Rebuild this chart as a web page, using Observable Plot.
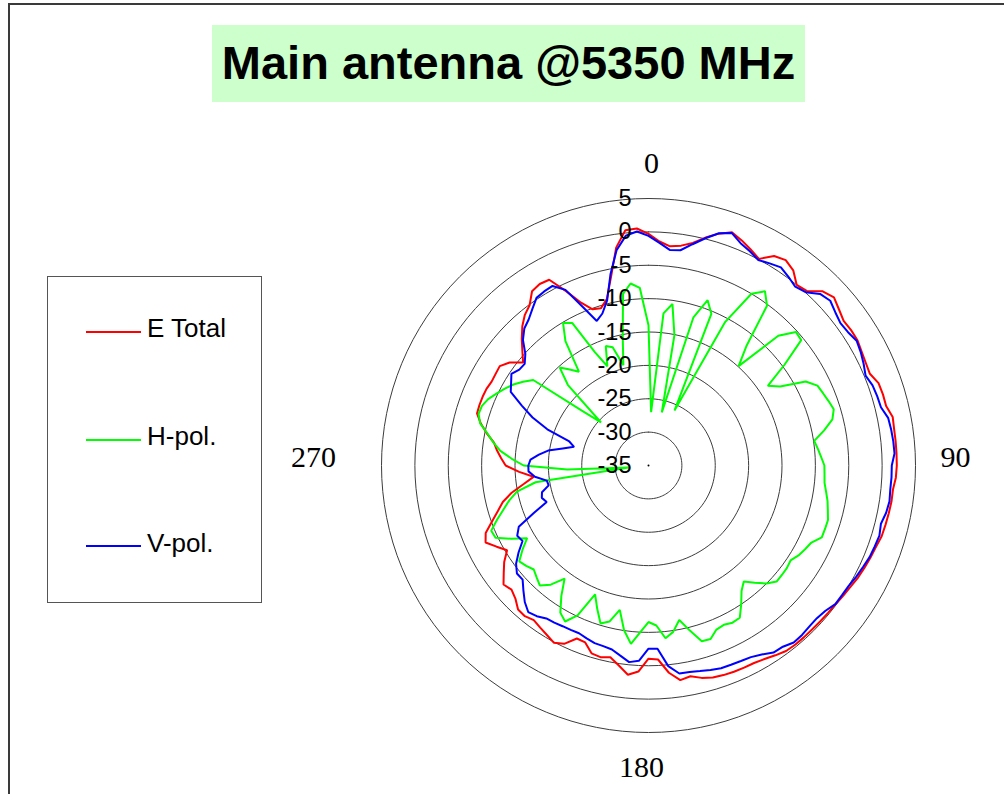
<!DOCTYPE html>
<html>
<head>
<meta charset="utf-8">
<script src="https://cdn.jsdelivr.net/npm/d3@7"></script>
<script src="https://cdn.jsdelivr.net/npm/@observablehq/plot@0.6"></script>
<style>
  html, body { margin: 0; padding: 0; background: #fff; }
  #wrap { position: relative; width: 1004px; height: 794px; overflow: hidden; font-family: "Liberation Sans", Arial, sans-serif; }
  #chart { position: absolute; left: 0; top: 0; }
  #chart svg { background: transparent; }
  #frame { position: absolute; left: 8px; top: 3px; width: 1200px; height: 1000px; border-left: 2px solid #3a3a3a; border-top: 2px solid #3a3a3a; }
  #title { position: absolute; left: 212px; top: 25px; width: 593px; height: 77px; background: #ccffcc; }
  #title span { position: absolute; left: 0; right: 0; top: 14px; line-height: 47px; text-align: center; font-weight: bold; font-size: 47px; color: #000; white-space: nowrap; }
  #legend { position: absolute; left: 47px; top: 276px; width: 213px; height: 325px; border: 1px solid #555; background: #fff; }
  .lg-line { position: absolute; height: 2px; width: 55px; }
  .lg-text { position: absolute; font-size: 26px; line-height: 26px; color: #000; white-space: pre; }
</style>
</head>
<body>
<div id="wrap">
  <div id="chart"></div>
  <div id="frame"></div>
  <div id="title"><span>Main antenna @5350 MHz</span></div>
  <div id="legend"></div>
</div>
<script>
// ---- data ----
const categoryCount = 128;                       // measurement directions (360/128 deg step)
const angles = d3.range(categoryCount).map(i => i * 360 / categoryCount);
const ringLevels = [-30, -25, -20, -15, -10, -5, 0, 5];
const tickLabels = [5, 0, -5, -10, -15, -20, -25, -30, -35];
const directionLabels = [0, 90, 180, 270];
const seriesNames = ["E Total", "H-pol.", "V-pol."];
const seriesColors = ["#ff0000", "#00ff00", "#0000ff"];
const rMin = -35, rMax = 5;

const eTotal = [
  -0.3, -1.4, -2.0, -1.7, -1.0, 0.2, 1.3, 2.1, 1.5, 0.8, 0.1, 1.6, 2.0, 1.4, 0.0, 0.3,
  1.9, 2.5, 1.9, 1.4, 1.5, 1.5, 1.2, 1.0, 0.9, 1.6, 1.7, 1.7, 2.3, 2.2, 2.2, 2.2,
  2.2, 2.1, 1.8, 1.8, 1.7, 1.6, 1.5, 1.2, 1.0, 0.8, 0.6, 0.3, 0.1, -0.1, -0.2, -0.25,
  -0.3, -0.3, -0.3, -0.4, -0.8, -1.2, -1.45, -1.5, -1.55, -1.65, -1.8, -2.2, -2.8, -2.5, -3.8, -5.9,
  -6.05, -4.1, -3.5, -4.7, -5.7, -5.4, -5.6, -6.85, -6.95, -5.45, -4.9, -5.4, -5.8, -6.15, -5.8, -5.9,
  -6.8, -7.3, -6.9, -8.0, -9.0, -10.3, -9.2, -8.0, -8.6, -10.1, -11.4, -12.5, -14.1, -16.1, -17.7, -15.6,
  -13.6, -12.9, -12.2, -11.6, -10.3, -9.1, -8.15, -8.1, -8.1, -8.15, -8.35, -8.3, -8.2, -9.1, -10.7, -9.5,
  -8.15, -6.85, -5.8, -5.1, -3.6, -3.3, -3.45, -6.1, -8.6, -10.15, -10.4, -9.3, -6.2, -2.0, 0.4, 0.55
];
const hPol = [
  -14.0, -27.0, -12.1, -10.55, -15.1, -26.8, -11.8, -8.7, -10.4, -25.9, -10.6, -5.0, -3.6, -5.2, -11.9, -14.9,
  -7.5, -5.2, -5.4, -9.6, -13.5, -12.0, -8.3, -7.0, -6.7, -6.35, -6.0, -6.6, -8.2, -9.9, -9.5, -9.1,
  -8.65, -8.6, -8.5, -8.1, -7.65, -7.3, -6.9, -6.9, -6.9, -8.0, -8.4, -8.8, -9.4, -9.2, -9.15, -9.1,
  -10.0, -11.3, -12.5, -11.6, -10.0, -8.4, -8.3, -8.6, -8.4, -7.4, -7.5, -9.5, -11.4, -9.8, -9.0, -11.0,
  -11.55, -10.0, -8.15, -10.05, -12.95, -10.9, -10.25, -12.2, -14.1, -10.15, -8.5, -9.3, -11.5, -13.9, -11.9, -10.75,
  -11.3, -11.8, -11.3, -10.9, -12.3, -13.8, -11.7, -9.65, -9.5, -10.9, -12.3, -13.5, -14.9, -17.9, -32.0, -22.8,
  -16.3, -14.5, -12.7, -11.5, -10.4, -9.0, -8.4, -8.5, -9.0, -9.8, -10.6, -11.4, -12.4, -13.5, -22.0, -25.4,
  -17.9, -15.2, -16.4, -17.5, -12.6, -10.1, -10.8, -16.2, -18.9, -16.0, -16.5, -19.5, -15.2, -9.0, -7.6, -8.35
];
const vPol = [
  -0.6, -1.6, -2.55, -2.4, -1.2, 0.1, 1.35, 2.0, 1.05, 0.5, -0.1, 0.3, 0.7, 0.2, -0.35, 0.05,
  1.35, 1.75, 1.2, 0.8, 0.95, 1.35, 1.05, 0.65, 0.2, 0.65, 0.8, 0.9, 1.6, 1.75, 1.85, 1.9,
  1.45, 1.45, 1.4, 1.5, 1.3, 0.9, 1.15, 1.0, 0.85, 0.55, 0.3, 0.0, -0.1, -0.15, -0.7, -0.95,
  -0.9, -0.75, -0.7, -1.2, -1.3, -2.0, -2.45, -2.6, -2.7, -2.75, -3.0, -3.25, -3.45, -3.5, -4.8, -7.5,
  -7.55, -5.7, -5.4, -6.2, -6.9, -7.1, -7.2, -7.5, -7.8, -7.75, -7.7, -7.55, -7.45, -6.9, -6.6, -7.4,
  -8.5, -9.55, -9.5, -10.3, -11.6, -13.0, -12.7, -13.5, -16.4, -18.8, -18.3, -18.55, -19.75, -19.6, -17.9, -17.0,
  -17.0, -17.3, -18.5, -19.8, -21.9, -23.5, -22.6, -18.9, -16.2, -14.0, -11.6, -11.0, -10.3, -10.9, -11.0, -10.1,
  -8.4, -7.3, -6.7, -5.8, -4.8, -4.6, -4.5, -5.9, -9.3, -12.0, -11.2, -9.5, -5.8, -2.4, -0.4, 0.1
];
const seriesValues = [eTotal, hPol, vPol];

// ---- polar helpers (radius measured from the -35 dB centre) ----
const px = (deg, v) => (v - rMin) * Math.sin(deg * Math.PI / 180);
const py = (deg, v) => (v - rMin) * Math.cos(deg * Math.PI / 180);
const closed = [...angles, angles[0]];

const ringData = ringLevels.flatMap(level => closed.map(a => ({level, a})));
const seriesData = seriesValues.map(vals => closed.map((a, i) => ({a, v: vals[i % categoryCount]})));

// label placement around the plot (radial units from centre)
const labelDist = d => d === 90 ? 46.0 : d === 270 ? 50.2 : 45.3;
const labelDx = d => d === 0 ? 3 : d === 180 ? -7 : 0;
const labelDy = d => (d === 90 || d === 270) ? -8 : 0;

const span = rMax - rMin; // 40
const marks = [
  Plot.line(ringData, {x: d => px(d.a, d.level), y: d => py(d.a, d.level), z: "level", stroke: "#3c3c3c", strokeWidth: 1}),
  Plot.dot([rMin], {x: d => px(0, d), y: d => py(0, d), r: 1, fill: "#000", stroke: null})
];
seriesData.forEach((pts, s) => {
  marks.push(Plot.line(pts, {x: d => px(d.a, d.v), y: d => py(d.a, d.v), stroke: seriesColors[s], strokeWidth: 2, strokeLinejoin: "miter"}));
});
marks.push(Plot.text(tickLabels, {
  x: d => 0, y: d => d - rMin, text: d => String(d),
  textAnchor: "end", dx: -17, fontSize: 23.5, fill: "#000"
}));
directionLabels.forEach(lbl => {
  marks.push(Plot.text([lbl], {
    x: d => labelDist(d) * Math.sin(d * Math.PI / 180),
    y: d => labelDist(d) * Math.cos(d * Math.PI / 180),
    text: d => String(d),
    textAnchor: "middle",
    dx: labelDx(lbl), dy: labelDy(lbl),
    fontSize: 30, fontFamily: "Liberation Serif, Times New Roman, serif", fill: "#000"
  }));
});

const chart = Plot.plot({
  width: 1004, height: 794,
  marginTop: 0, marginRight: 0, marginBottom: 0, marginLeft: 0,
  x: {domain: [-span, span], range: [648 - 267, 648 + 267], axis: null},
  y: {domain: [-span, span], range: [465 + 267, 465 - 267], axis: null},
  style: {fontFamily: "Liberation Sans, Arial, sans-serif", background: "transparent", overflow: "visible"},
  marks
});
document.getElementById("chart").appendChild(chart);

// ---- legend ----
const legend = document.getElementById("legend");
const legendLineY = [331.5, 440, 545.5];
const legendBaseline = [336.5, 445, 551.5];
seriesNames.forEach((name, i) => {
  const line = document.createElement("div");
  line.className = "lg-line";
  line.style.left = (86 - 48) + "px";
  line.style.top = (legendLineY[i] - 1 - 277) + "px";
  line.style.background = seriesColors[i];
  legend.appendChild(line);
  const t = document.createElement("div");
  t.className = "lg-text";
  t.style.left = (147 - 48) + "px";
  t.style.top = (legendBaseline[i] - 22 - 277) + "px";
  t.textContent = name;
  legend.appendChild(t);
});
</script>
</body>
</html>
